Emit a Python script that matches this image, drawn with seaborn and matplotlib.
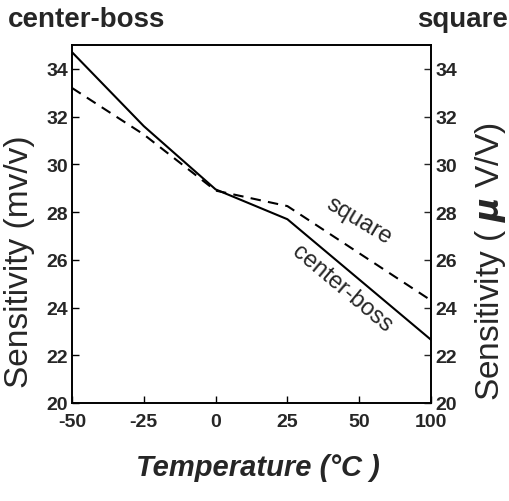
import numpy as np
import pandas as pd
import matplotlib
matplotlib.use("Agg")
import matplotlib.pyplot as plt
import seaborn as sns

# ---- data ----
temperature = [-50, -25, 0, 25, 100]
center_boss = [34.7, 31.6, 28.95, 27.7, 22.65]
square = [33.2, 31.25, 28.9, 28.25, 24.3]
x_ticks = [-50, -25, 0, 25, 50, 100]
x_tick_labels = ["-50", "-25", "0", "25", "50", "100"]
y_ticks = [20, 22, 24, 26, 28, 30, 32, 34]

sns.set_style("ticks")
plt.rcParams["font.family"] = ["Liberation Sans", "DejaVu Sans"]
plt.rcParams["mathtext.fontset"] = "dejavusans"

df = pd.DataFrame({
    "Temperature": temperature * 2,
    "Sensitivity": center_boss + square,
    "Type": ["center-boss"] * len(temperature) + ["square"] * len(temperature),
})

fig = plt.figure(figsize=(5.10, 5.02), dpi=100)
ax = fig.add_axes([72 / 510, 98 / 502, 359 / 510, 358 / 502])

idx = np.arange(len(x_ticks), dtype=float)
fwd = lambda v: np.interp(v, x_ticks, idx)
inv = lambda v: np.interp(v, idx, x_ticks)
ax.set_xscale("function", functions=(fwd, inv))

sns.lineplot(data=df, x="Temperature", y="Sensitivity", hue="Type", style="Type",
             palette={"center-boss": "black", "square": "black"},
             dashes={"center-boss": "", "square": (5, 3.5)},
             linewidth=1.5, legend=False, ax=ax)

ax.set_xlim(-50, 100)
ax.set_ylim(20, 35)
ax.set_xticks(x_ticks)
ax.set_xticklabels(x_tick_labels)
ax.set_yticks(y_ticks)
ax.set_xlabel("")
ax.set_ylabel("")

TICK_SIZE = 14
for lab in ax.get_xticklabels() + ax.get_yticklabels():
    lab.set_fontweight("bold")
    lab.set_fontsize(TICK_SIZE)
ax.tick_params(axis="both", direction="in", length=5, width=1, color="black")
ax.tick_params(axis="y", pad=3)
ax.tick_params(axis="x", pad=7)

ax2 = ax.twinx()
ax2.set_ylim(20, 35)
ax2.set_yticks(y_ticks)
ax2.set_yticklabels([str(t) for t in y_ticks])
for lab in ax2.get_yticklabels():
    lab.set_fontweight("bold")
    lab.set_fontsize(TICK_SIZE)
ax2.tick_params(axis="y", direction="in", length=5, width=1, pad=3)

for a in (ax, ax2):
    for s in a.spines.values():
        s.set_visible(True)
        s.set_linewidth(1.2)
        s.set_color("black")

# in-plot annotations
ax.text(50, 27.65, "square", rotation=-31, ha="center", va="center", fontsize=17)
ax.text(44, 24.8, "center-boss", rotation=-40, ha="center", va="center", fontsize=17)

# figure texts
fig.text(8 / 510, 1 - 20 / 502, "center-boss", ha="left", va="center", fontsize=20, fontweight="bold")
fig.text(508 / 510, 1 - 20 / 502, "square", ha="right", va="center", fontsize=20, fontweight="bold")
fig.text(20 / 510, 1 - 262 / 502, "Sensitivity (mv/v)", rotation=90, ha="center", va="center", fontsize=24)
fig.text(491 / 510, 1 - 262 / 502, r"Sensitivity ( $\boldsymbol{\mu}$ V/V)", rotation=90,
         ha="center", va="center", fontsize=24)
fig.text(258 / 510, 1 - 468 / 502, "Temperature (°C )", ha="center", va="center", fontsize=21,
         fontweight="bold", style="italic")

fig.savefig("out.png", dpi=100)
